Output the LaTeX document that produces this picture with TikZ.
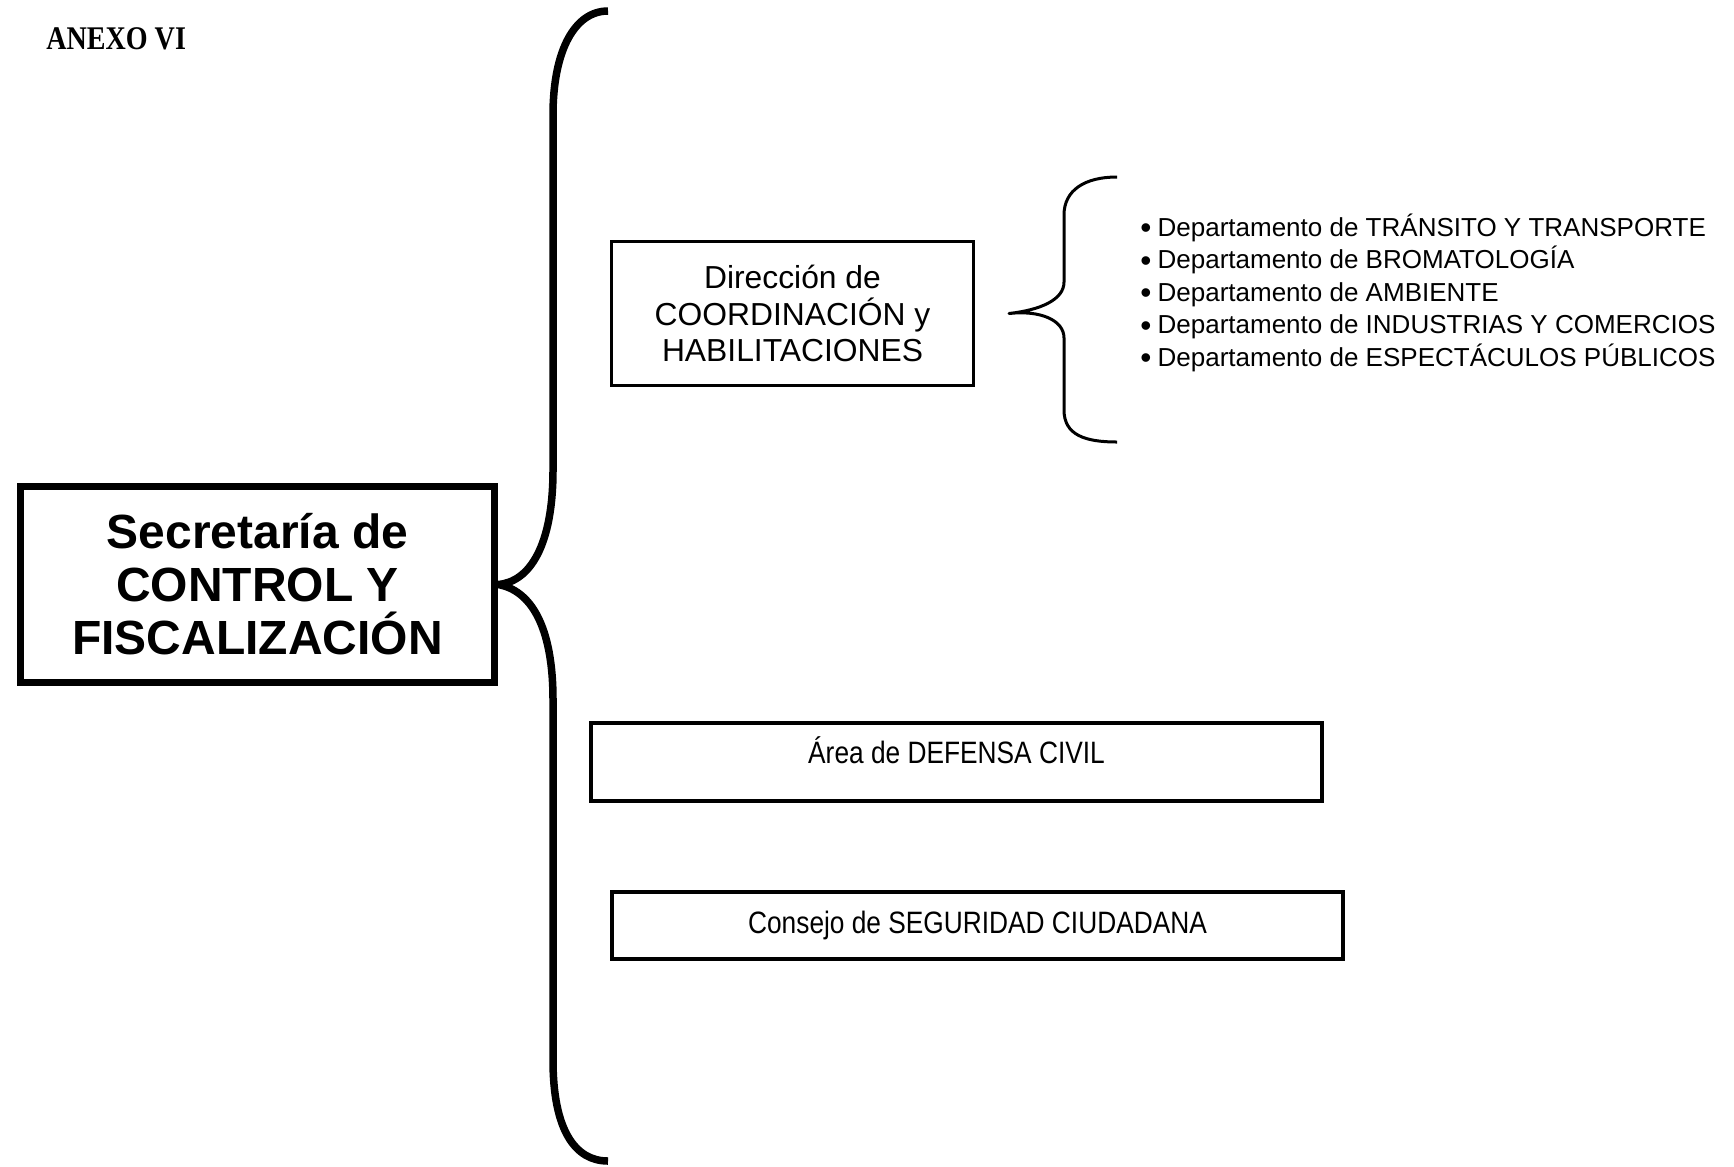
\documentclass[tikz,border=0pt]{standalone}
\usepackage{fontspec}
\setmainfont{Liberation Sans}
\newfontfamily\narrowfont{Liberation Sans}[FakeStretch=0.85]
\newfontfamily\anexofont{Liberation Serif}[FakeStretch=0.85]
\newcommand{\deptbullet}{\raisebox{-1.2pt}{\fontsize{18}{18}\selectfont\textbullet}\hspace{3.5pt}}
\begin{document}
\begin{tikzpicture}[
    mainbox/.style={draw, line width=0.14cm, minimum width=9.48cm, minimum height=3.92cm, align=center, font=\bfseries\fontsize{27.3}{30.2}\selectfont},
    dirbox/.style={draw, line width=0.06cm, minimum width=7.24cm, minimum height=2.88cm, align=center, font=\fontsize{18.1}{21}\selectfont},
    unitbox/.style={draw, line width=0.07cm, minimum width=14.62cm, font=\narrowfont\fontsize{17.6}{20}\selectfont},
    bigbrace/.style={line width=0.15cm, line join=round},
    smallbrace/.style={line width=0.06cm, line join=round}
]
    \useasboundingbox (0,0) rectangle (34.68,-23.32);
    \node[anchor=base west, inner sep=0, font=\anexofont\bfseries\fontsize{18.8}{22}\selectfont] (anexo) at (0.92,-0.98) {ANEXO VI};
    \node[mainbox] (secretaria) at (5.15,-11.69) {Secretaría de\\CONTROL Y\\FISCALIZACIÓN};
    \node[dirbox] (direccion) at (15.85,-6.27) {Dirección de\\COORDINACIÓN y\\HABILITACIONES};
    \node[unitbox, minimum height=1.56cm, text height=0.45cm, text depth=0.41cm] (defensa) at (19.13,-15.24) {Área de DEFENSA CIVIL};
    \node[unitbox, minimum height=1.34cm] (consejo) at (19.55,-18.51) {Consejo de SEGURIDAD CIUDADANA};
    \node[anchor=north west, inner sep=0, align=left, font=\fontsize{14.8}{18.5}\selectfont] (deptos) at (22.8,-4.27)
        {\deptbullet Departamento de TRÁNSITO Y TRANSPORTE\\
         \deptbullet Departamento de BROMATOLOGÍA\\
         \deptbullet Departamento de AMBIENTE\\
         \deptbullet Departamento de INDUSTRIAS Y COMERCIOS\\
         \deptbullet Departamento de ESPECTÁCULOS PÚBLICOS};
    % big brace
    \coordinate (bigtop) at (12.16,-0.22);
    \coordinate (bigbot) at (12.16,-23.22);
    \draw[bigbrace] (bigtop) .. controls (11.5,-0.22) and (11.06,-1.0) .. (11.06,-2.3)
        -- (11.06,-9.4) .. controls (11.06,-10.9) and (10.6,-11.64) .. (secretaria.east)
        .. controls (10.6,-11.8) and (11.06,-12.5) .. (11.06,-14.0)
        -- (11.06,-21.2) .. controls (11.06,-22.6) and (11.5,-23.22) .. (bigbot);
    % small brace
    \coordinate (dirtip) at ([xshift=0.68cm]direccion.east);
    \coordinate (smalltop) at (22.34,-3.54);
    \coordinate (smallbot) at (22.34,-8.84);
    \draw[smallbrace] (smalltop) .. controls (21.7,-3.54) and (21.28,-3.8) .. (21.28,-4.3)
        -- (21.28,-5.64) .. controls (21.28,-6.0) and (20.8,-6.2) .. (dirtip)
        .. controls (20.8,-6.2) and (21.28,-6.4) .. (21.28,-6.76)
        -- (21.28,-8.2) .. controls (21.28,-8.7) and (21.7,-8.84) .. (smallbot);
\end{tikzpicture}
\end{document}
